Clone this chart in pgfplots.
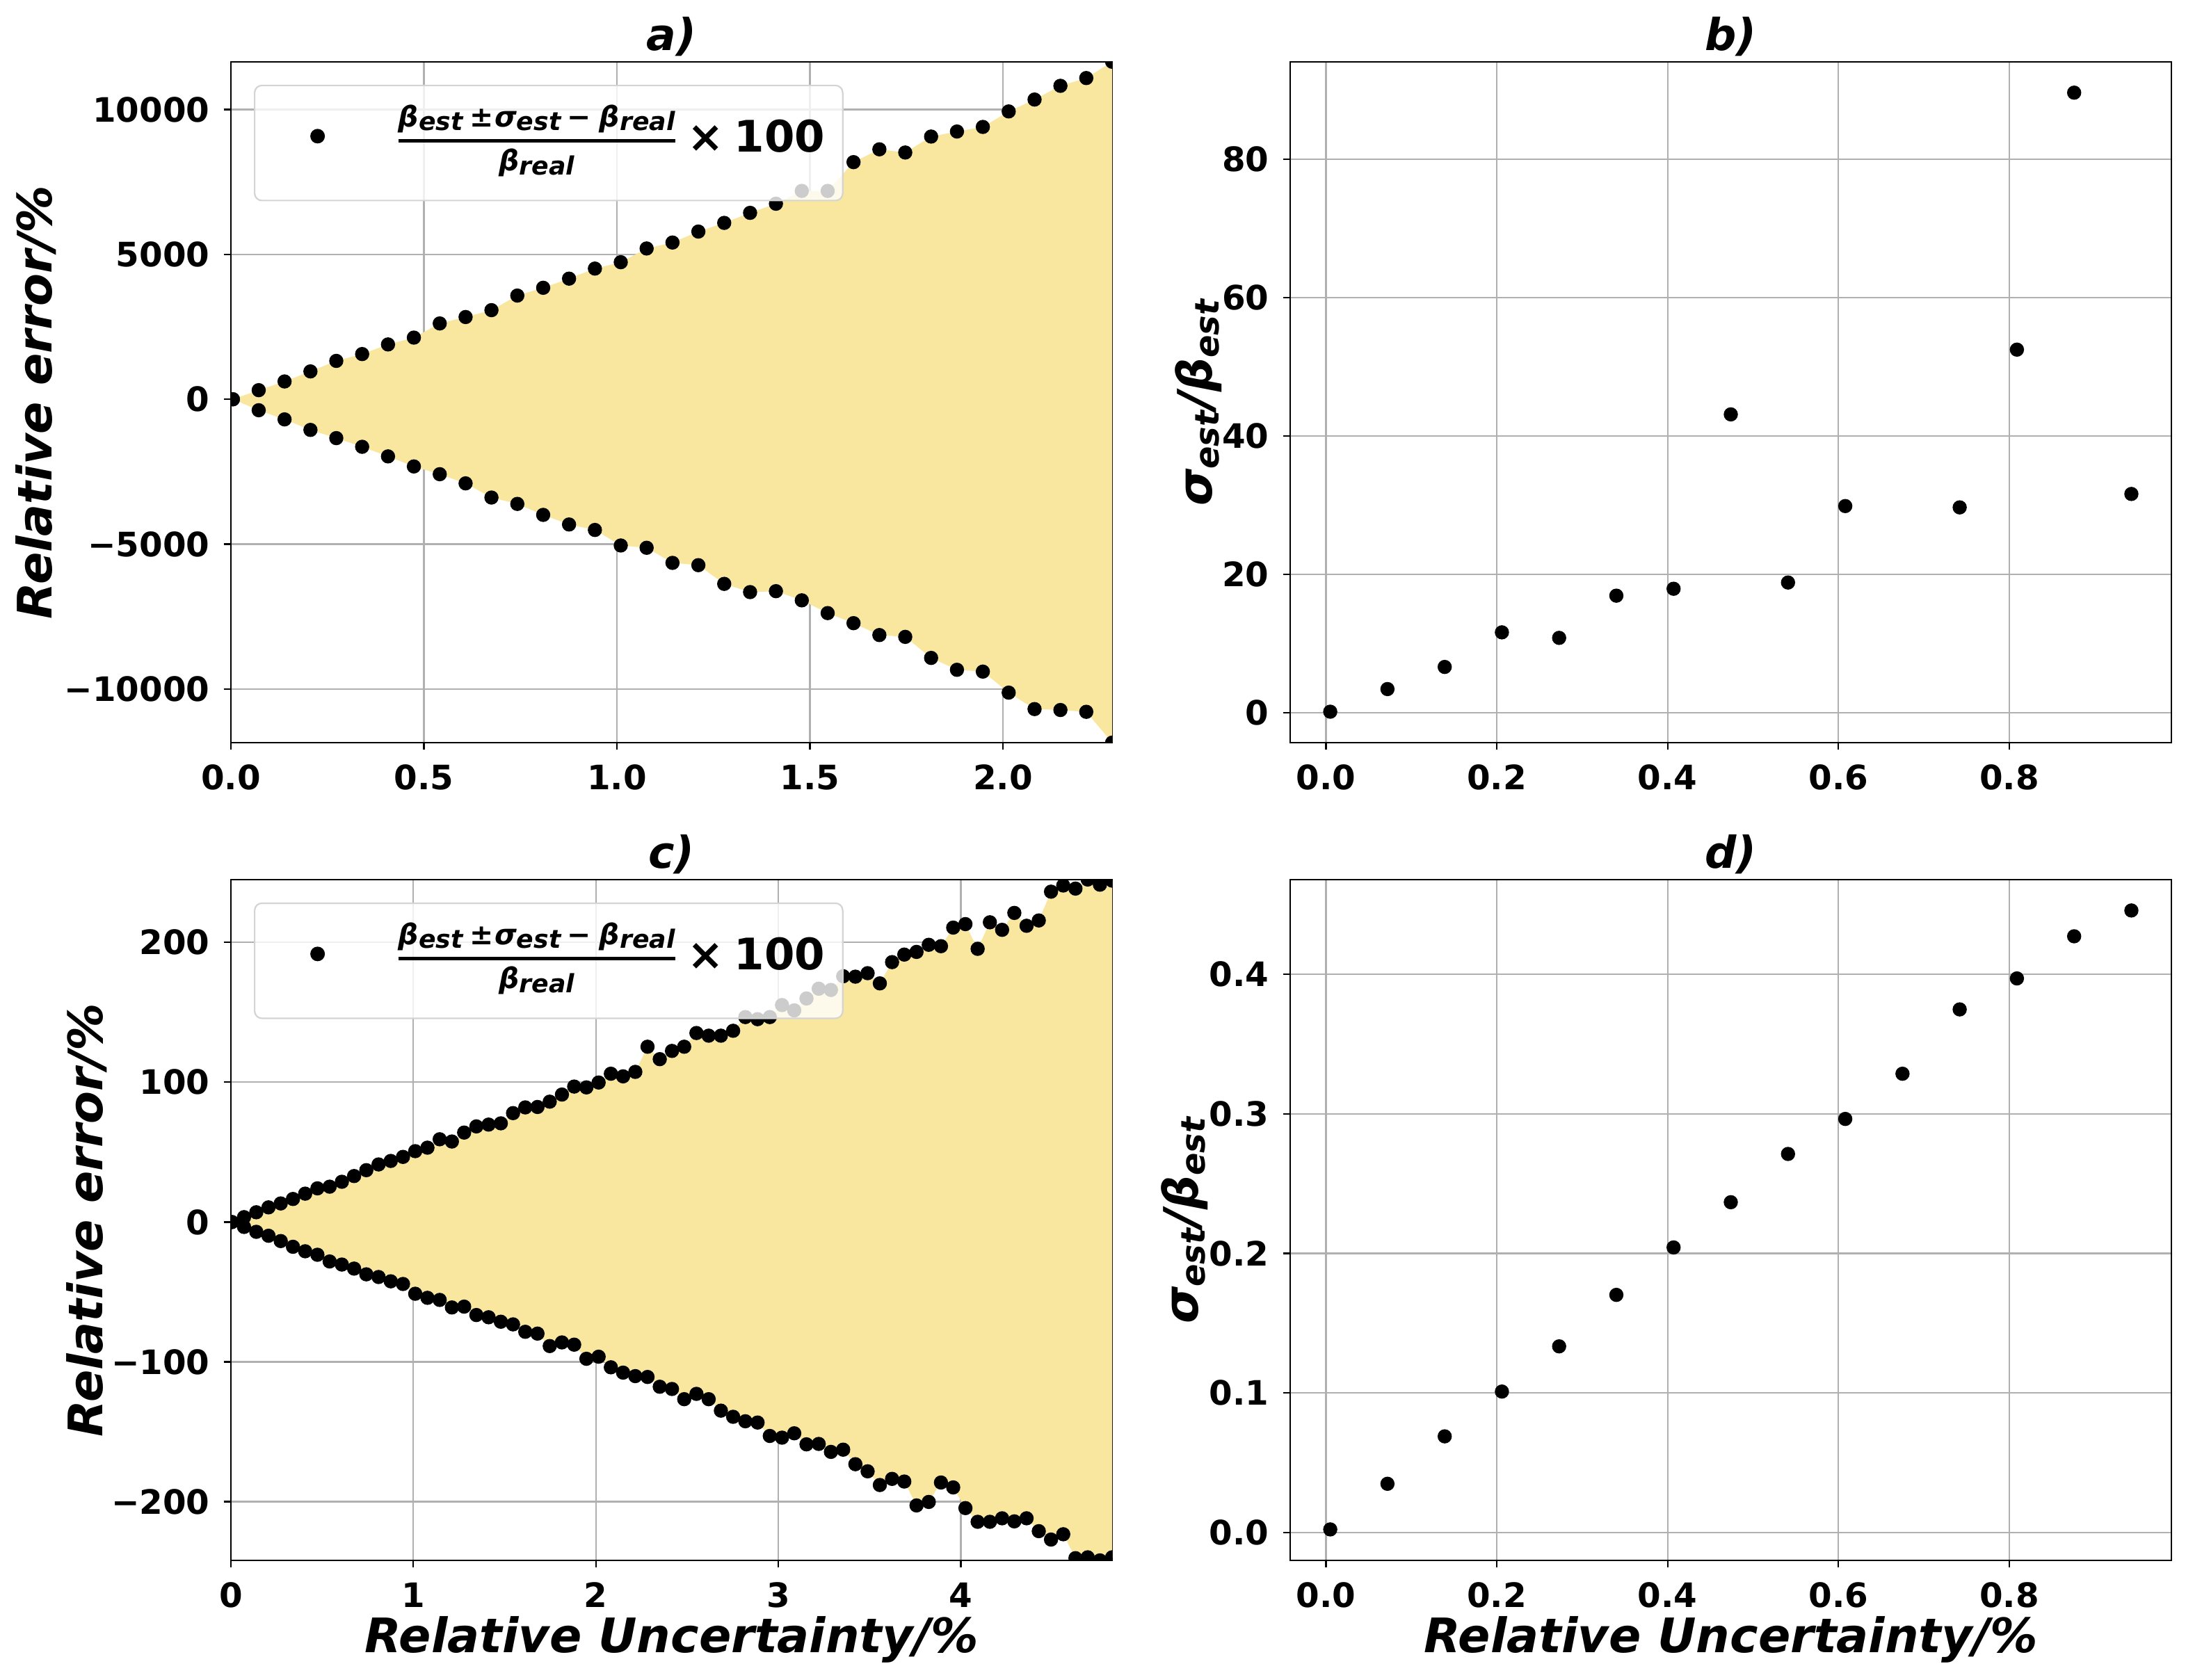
\documentclass[border=0pt]{standalone}
\usepackage{fontspec}
\setmainfont{DejaVu Sans}[BoldFont={DejaVu Sans Bold},ItalicFont={DejaVu Sans Oblique},BoldItalicFont={DejaVu Sans Bold Oblique}]
\usepackage{pgfplots}
\usepackage{pgfplotstable}
\pgfplotsset{compat=1.18}
\usepgfplotslibrary{fillbetween}

\definecolor{fillyellow}{RGB}{249,231,159}
\definecolor{gridgray}{RGB}{176,176,176}
\definecolor{legedge}{RGB}{212,212,212}

\newcommand{\tickfont}{\fontsize{11.6pt}{13pt}\selectfont\bfseries}
\newcommand{\labfont}{\fontsize{16.4pt}{19pt}\selectfont\bfseries\itshape}
\newcommand{\titfont}{\fontsize{15.2pt}{18pt}\selectfont\bfseries\itshape}
\newcommand{\legfont}{\fontsize{15pt}{18pt}\selectfont\bfseries}
\newcommand{\numfont}{\fontsize{9.8pt}{11pt}\selectfont\bfseries\itshape}
\newcommand{\subs}[1]{\raisebox{-1.3pt}{\fontsize{8.7pt}{9pt}\selectfont #1}}
\newsavebox\numbox
\newsavebox\denbox
\newcommand{\legtext}{%
  \sbox\numbox{\numfont β\subs{est}\hspace{2.4pt}{\upshape ±}\hspace{0.3pt}σ\subs{est}\hspace{2.2pt}{\upshape −}\hspace{2.9pt}β\subs{real}\rule[-2.1pt]{0pt}{8pt}}%
  \sbox\denbox{\numfont β\subs{real}\rule{0pt}{7.6pt}}%
  \raisebox{8.6pt}{\raisebox{-6.5pt}{\vbox{\hbox to \wd\numbox{\usebox\numbox}\kern2.3pt\hrule height 1pt\kern2.3pt\hbox to \wd\numbox{\hss\usebox\denbox\hss}}}%
  \hspace{4.4pt}×\hspace{3.5pt}100}}
\newcommand{\sblab}{σ\textsubscript{est}/β\textsubscript{est}}

\pgfplotstableread{
x up lo
0.005 0 0
0.072 315 -378
0.139 615 -694
0.206 962 -1057
0.273 1325 -1340
0.340 1561 -1640
0.407 1893 -1971
0.474 2129 -2318
0.541 2618 -2586
0.608 2839 -2902
0.675 3076 -3391
0.742 3580 -3611
0.809 3849 -3990
0.876 4164 -4321
0.943 4511 -4510
1.010 4732 -5046
1.077 5205 -5125
1.144 5410 -5646
1.211 5789 -5725
1.278 6088 -6371
1.345 6435 -6655
1.412 6750 -6623
1.479 7192 -6939
1.546 7192 -7380
1.613 8185 -7727
1.680 8627 -8137
1.747 8517 -8200
1.814 9068 -8926
1.881 9242 -9336
1.948 9400 -9399
2.015 9935 -10124
2.082 10345 -10692
2.149 10819 -10724
2.216 11087 -10787
2.283 11650 -11850
}\tabA

\pgfplotstableread{
x up lo
0.005 0 0
0.072 3.5 -3.5
0.139 7.0 -7.0
0.206 10.5 -9.8
0.273 13.3 -13.6
0.340 16.5 -17.7
0.407 20.3 -20.9
0.474 24.1 -23.4
0.541 25.3 -28.2
0.608 28.8 -30.4
0.675 32.9 -33.3
0.742 37.1 -37.4
0.809 41.2 -39.3
0.876 43.7 -42.4
0.943 46.6 -44.3
1.010 50.7 -51.3
1.077 53.2 -54.2
1.144 59.2 -55.7
1.211 57.6 -61.1
1.278 64.0 -60.5
1.345 68.4 -66.5
1.412 69.7 -68.1
1.479 70.6 -71.3
1.546 77.9 -73.2
1.613 82.0 -78.5
1.680 82.3 -79.8
1.747 86.1 -88.7
1.814 91.2 -86.1
1.881 96.9 -87.7
1.948 96.3 -97.8
2.015 99.8 -96.3
2.082 106.1 -103.9
2.149 104.2 -107.7
2.216 107.4 -110.2
2.283 125.4 -110.8
2.350 116.5 -117.8
2.417 122.4 -119.4
2.484 125.4 -126.7
2.551 135.2 -122.9
2.618 133.3 -126.7
2.685 133.3 -134.9
2.752 136.8 -139.3
2.819 146.6 -142.5
2.886 145.1 -143.4
2.953 146.6 -153.0
3.020 155.2 -154.2
3.087 151.4 -151.1
3.154 159.9 -159.0
3.221 166.9 -158.7
3.288 166.0 -164.4
3.355 175.8 -162.8
3.422 175.5 -173.2
3.489 178.0 -178.3
3.556 170.7 -188.1
3.623 185.9 -183.7
3.690 191.3 -185.6
3.757 193.2 -202.7
3.824 198.3 -200.2
3.891 197.3 -186.3
3.958 210.6 -189.8
4.025 213.1 -204.6
4.092 195.4 -214.4
4.159 214.4 -214.4
4.226 209.0 -211.9
4.293 221.1 -214.1
4.360 211.9 -211.9
4.427 215.7 -221.1
4.494 236.3 -227.1
4.561 240.7 -223.3
4.628 238.5 -240.4
4.695 245.0 -239.8
4.762 241.3 -242.0
4.829 244.2 -239.8
}\tabC

\pgfplotstableread{
x y
0.005 0.13
0.072 3.4
0.139 6.6
0.206 11.6
0.273 10.8
0.340 16.9
0.407 17.9
0.474 43.1
0.541 18.8
0.608 29.85
0.742 29.66
0.809 52.46
0.876 89.6
0.943 31.6
}\tabB

\pgfplotstableread{
x y
0.005 0.0022
0.072 0.0349
0.139 0.0689
0.206 0.1010
0.273 0.1334
0.340 0.1703
0.407 0.2043
0.474 0.2367
0.541 0.2713
0.608 0.2964
0.675 0.3288
0.742 0.3749
0.809 0.3971
0.876 0.4273
0.943 0.4458
}\tabD

\pgfplotsset{
  common/.style={
    set layers,
    scale only axis, width=304.08pt, height=235pt, anchor=south west,
    clip marker paths=true,
    scaled x ticks=false, scaled y ticks=false,
    axis line style={line width=0.53pt, black},
    tick align=outside, tick pos=left, major tick length=2.33pt,
    tick style={black, line width=0.53pt},
    grid=major, major grid style={line width=0.53pt, draw=gridgray},
    ticklabel style={font=\tickfont},
    xticklabel style={anchor=base, inner sep=0pt, yshift=-13.92pt},
    yticklabel style={anchor=east, inner sep=0pt, xshift=-4.8pt},
    title style={at={(axis description cs:0.5,1)}, anchor=base, yshift=-2.16pt, inner sep=0pt, font=\titfont},
    xlabel style={at={(axis description cs:0.5,0)}, anchor=base, yshift=-31.92pt, inner sep=0pt, font=\labfont},
    ylabel style={anchor=base, inner sep=0pt, font=\labfont},
  },
  dots/.style={only marks, mark=*, mark size=2.25pt, mark options={draw=none, fill=black}},
  leg/.style={
    legend style={at={(axis description cs:0,1)}, anchor=north west, xshift=7.92pt, yshift=-7.92pt,
      draw=legedge, line width=0.53pt, fill=white, fill opacity=0.8, text opacity=1,
      rounded corners=2.5pt, inner xsep=6.1pt, inner ysep=6.62pt, column sep=12.3pt,
      nodes={inner sep=0pt}, cells={anchor=base west}, font=\legfont},
    legend image code/.code={
      \path (0pt,14.1pt) (30.72pt,14.1pt);
      \draw[mark repeat=2, mark phase=2, ##1, fill opacity=1] plot coordinates {(0pt,14.1pt) (15.36pt,14.1pt) (30.72pt,14.1pt)};
    },
  },
}

\begin{document}
\begin{tikzpicture}

% a)
\begin{axis}[common, leg, at={(79.68pt,323.52pt)},
  xmin=0, xmax=2.283, ymin=-11850, ymax=11650,
  xtick={0,0.5,1,1.5,2}, xticklabels={0.0,0.5,1.0,1.5,2.0},
  ytick={-10000,-5000,0,5000,10000}, yticklabels={−10000,−5000,0,5000,10000},
  title={a)}, ylabel={Relative error/\%},
  ylabel style={at={(axis description cs:-0.2036,0.5)}}]
\addplot[name path=upA, draw=none, forget plot] table[x=x,y=up]{\tabA};
\addplot[name path=loA, draw=none, forget plot] table[x=x,y=lo]{\tabA};
\addplot[fill=fillyellow, draw=none, on layer=axis background, forget plot] fill between[of=upA and loA];
\addplot[dots] table[x=x,y=up]{\tabA};
\addlegendentry{\legtext}
\addplot[dots, forget plot] table[x=x,y=lo]{\tabA};
\end{axis}

% b)
\begin{axis}[common, at={(445.2pt,323.52pt)},
  xmin=-0.0419, xmax=0.9899, ymin=-4.34, ymax=94.07,
  xtick={0,0.2,0.4,0.6,0.8}, xticklabels={0.0,0.2,0.4,0.6,0.8},
  ytick={0,20,40,60,80}, yticklabels={0,20,40,60,80},
  title={b)}, ylabel={\sblab},
  ylabel style={at={(axis description cs:-0.0892,0.5)}}]
\addplot[dots] table[x=x,y=y]{\tabB};
\end{axis}

% c)
\begin{axis}[common, leg, at={(79.68pt,41.28pt)},
  xmin=0, xmax=4.829, ymin=-242, ymax=245,
  xtick={0,1,2,3,4}, xticklabels={0,1,2,3,4},
  ytick={-200,-100,0,100,200}, yticklabels={−200,−100,0,100,200},
  title={c)}, ylabel={Relative error/\%}, xlabel={Relative Uncertainty/\%},
  ylabel style={at={(axis description cs:-0.1460,0.5)}}]
\addplot[name path=upC, draw=none, forget plot] table[x=x,y=up]{\tabC};
\addplot[name path=loC, draw=none, forget plot] table[x=x,y=lo]{\tabC};
\addplot[fill=fillyellow, draw=none, on layer=axis background, forget plot] fill between[of=upC and loC];
\addplot[dots] table[x=x,y=up]{\tabC};
\addlegendentry{\legtext}
\addplot[dots, forget plot] table[x=x,y=lo]{\tabC};
\end{axis}

% d)
\begin{axis}[common, at={(445.2pt,41.28pt)},
  xmin=-0.0419, xmax=0.9899, ymin=-0.0200, ymax=0.4680,
  xtick={0,0.2,0.4,0.6,0.8}, xticklabels={0.0,0.2,0.4,0.6,0.8},
  ytick={0,0.1,0.2,0.3,0.4}, yticklabels={0.0,0.1,0.2,0.3,0.4},
  title={d)}, ylabel={\sblab}, xlabel={Relative Uncertainty/\%},
  ylabel style={at={(axis description cs:-0.105,0.5)}}]
\addplot[dots] table[x=x,y=y]{\tabD};
\end{axis}

\pgfresetboundingbox
\path[use as bounding box] (0,0) rectangle (754.32pt,579.84pt);
\end{tikzpicture}
\end{document}
